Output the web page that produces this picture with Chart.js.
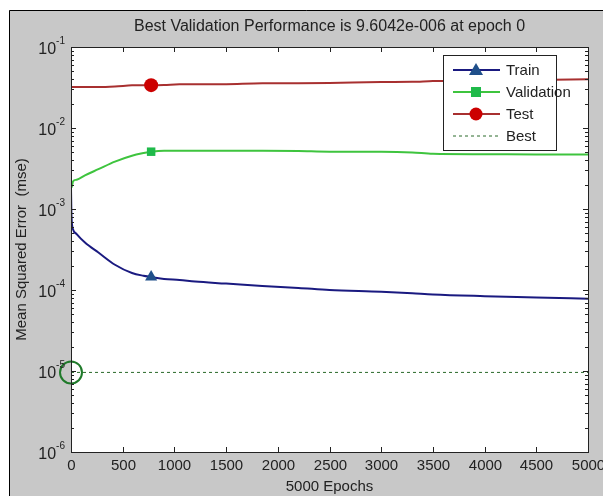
<!DOCTYPE html>
<html>
<head>
<meta charset="utf-8">
<script src="https://cdn.jsdelivr.net/npm/chart.js@4.4.1/dist/chart.umd.min.js"></script>
<style>
  body { margin: 0; background: #fff; }
  #wrap { width: 603px; height: 496px; }
</style>
</head>
<body>
<div id="wrap"><canvas id="perfChart" width="603" height="496"></canvas></div>
<script>
// values (epoch -> mse)
const epochs     = [0, 5, 20, 55, 135, 265, 425, 590, 700, 775, 900, 1050, 1200, 1500, 1850, 2200, 2500, 3000, 3300, 3500, 4000, 4500, 5000];
const trainMse   = [1.8e-3, 8e-4, 5.6e-4, 4.9e-4, 3.85e-4, 2.9e-4, 2.05e-4, 1.62e-4, 1.5e-4, 1.45e-4, 1.37e-4, 1.33e-4, 1.27e-4, 1.2e-4, 1.12e-4, 1.06e-4, 1.0e-4, 9.5e-5, 9.1e-5, 8.8e-5, 8.4e-5, 8.1e-5, 7.8e-5];
const validMse   = [2.0e-3, 1.85e-3, 2.2e-3, 2.3e-3, 2.6e-3, 3.1e-3, 3.85e-3, 4.55e-3, 4.9e-3, 5.1e-3, 5.25e-3, 5.25e-3, 5.25e-3, 5.25e-3, 5.25e-3, 5.2e-3, 5.1e-3, 5.1e-3, 5.0e-3, 4.8e-3, 4.75e-3, 4.7e-3, 4.7e-3];
const testMse    = [3.2e-2, 3.2e-2, 3.2e-2, 3.2e-2, 3.2e-2, 3.2e-2, 3.25e-2, 3.36e-2, 3.38e-2, 3.38e-2, 3.4e-2, 3.46e-2, 3.46e-2, 3.48e-2, 3.56e-2, 3.57e-2, 3.6e-2, 3.7e-2, 3.72e-2, 3.8e-2, 3.85e-2, 3.9e-2, 4.0e-2];
const bestEpochs = [0, 5000];
const bestMse    = [9.6042e-6, 9.6042e-6];
const markEpoch  = 775;
const xTicks     = [0, 500, 1000, 1500, 2000, 2500, 3000, 3500, 4000, 4500, 5000];
const yExponents = [-1, -2, -3, -4, -5, -6];

const FONT = '"Liberation Sans", Arial, sans-serif';

const toPoints = (xs, ys) => xs.map((x, i) => ({ x: x, y: ys[i] }));
const markOnly = (r) => (ctx) => (ctx.raw && ctx.raw.x === markEpoch ? r : 0);

const legendItems = [
  { label: "Train", color: "#1a1a80", marker: "triangle", fill: "#1f4f8a" },
  { label: "Validation", color: "#3ec43e", marker: "rect", fill: "#1fba4a" },
  { label: "Test", color: "#a83030", marker: "circle", fill: "#cc0000" },
  { label: "Best", color: "#2a6a2a", marker: null, dash: [3, 3] }
];

// frame, ticks, labels, title and legend drawn MATLAB-style
const matlabLook = {
  id: "matlabLook",
  beforeDraw(chart) {
    const ctx = chart.ctx, a = chart.chartArea;
    ctx.save();
    ctx.fillStyle = "#fff";
    ctx.fillRect(0, 0, chart.width, chart.height);
    ctx.fillStyle = "#c8c8c8";
    ctx.fillRect(9, 10, chart.width - 9, chart.height - 10);
    ctx.strokeStyle = "#000";
    ctx.lineWidth = 1;
    ctx.beginPath();
    ctx.moveTo(9.5, chart.height);
    ctx.lineTo(9.5, 10.5);
    ctx.lineTo(chart.width, 10.5);
    ctx.stroke();
    ctx.fillStyle = "#fff";
    ctx.fillRect(a.left, a.top, a.right - a.left, a.bottom - a.top);
    ctx.restore();
  },
  afterDatasetsDraw(chart) {
    const ctx = chart.ctx, a = chart.chartArea;
    const xs = chart.scales.x, ys = chart.scales.y;
    ctx.save();
    ctx.strokeStyle = "#222";
    ctx.lineWidth = 1;
    ctx.strokeRect(Math.round(a.left) + 0.5, Math.round(a.top) + 0.5, Math.round(a.right - a.left), Math.round(a.bottom - a.top));

    // x ticks
    ctx.fillStyle = "#222";
    ctx.font = "15px " + FONT;
    ctx.textAlign = "center";
    ctx.textBaseline = "middle";
    ctx.beginPath();
    xTicks.forEach(t => {
      const px = Math.round(xs.getPixelForValue(t)) + 0.5;
      ctx.moveTo(px, a.bottom); ctx.lineTo(px, a.bottom - 5);
      ctx.moveTo(px, a.top); ctx.lineTo(px, a.top + 5);
      ctx.fillText(String(t), px, a.bottom + 14);
    });
    // y ticks (major + minor)
    yExponents.forEach(e => {
      const py = Math.round(ys.getPixelForValue(Math.pow(10, e))) + 0.5;
      ctx.moveTo(a.left, py); ctx.lineTo(a.left + 5, py);
      ctx.moveTo(a.right, py); ctx.lineTo(a.right - 5, py);
      if (e < -1) {
        for (let m = 2; m <= 9; m++) {
          const my = Math.round(ys.getPixelForValue(m * Math.pow(10, e))) + 0.5;
          ctx.moveTo(a.left, my); ctx.lineTo(a.left + 3, my);
          ctx.moveTo(a.right, my); ctx.lineTo(a.right - 3, my);
        }
      }
    });
    ctx.stroke();

    yExponents.forEach(e => {
      const py = ys.getPixelForValue(Math.pow(10, e));
      ctx.font = "10px " + FONT;
      ctx.textAlign = "left";
      const sup = String(e);
      const supW = ctx.measureText(sup).width;
      const supX = a.left - 6 - supW;
      ctx.fillText(sup, supX, py - 6);
      ctx.font = "16px " + FONT;
      ctx.textAlign = "right";
      ctx.fillText("10", supX, py + 3);
    });

    // axis titles and title
    ctx.textAlign = "center";
    ctx.font = "15px " + FONT;
    ctx.fillText("5000 Epochs", (a.left + a.right) / 2, chart.height - 9);
    ctx.font = "16px " + FONT;
    ctx.fillText("Best Validation Performance is 9.6042e-006 at epoch 0", (a.left + a.right) / 2, 27);
    ctx.font = "15px " + FONT;
    ctx.save();
    ctx.translate(22, (a.top + a.bottom) / 2);
    ctx.rotate(-Math.PI / 2);
    ctx.fillText("Mean Squared Error  (mse)", 0, 0);
    ctx.restore();

    // legend box
    const lx = 443, ly = 55, lw = 113, lh = 95;
    ctx.fillStyle = "#fff";
    ctx.fillRect(lx, ly, lw, lh);
    ctx.strokeStyle = "#222";
    ctx.strokeRect(lx + 0.5, ly + 0.5, lw, lh);
    legendItems.forEach((it, i) => {
      const y = ly + 15 + i * 22;
      ctx.strokeStyle = it.color;
      ctx.lineWidth = it.dash ? 1 : 2;
      ctx.setLineDash(it.dash || []);
      ctx.beginPath();
      ctx.moveTo(lx + 10, y); ctx.lineTo(lx + 57, y);
      ctx.stroke();
      ctx.setLineDash([]);
      ctx.fillStyle = it.fill || it.color;
      if (it.marker === "triangle") {
        ctx.beginPath();
        ctx.moveTo(lx + 33, y - 7); ctx.lineTo(lx + 40, y + 5); ctx.lineTo(lx + 26, y + 5);
        ctx.closePath(); ctx.fill();
      } else if (it.marker === "rect") {
        ctx.fillRect(lx + 28, y - 5, 10, 10);
      } else if (it.marker === "circle") {
        ctx.beginPath(); ctx.arc(lx + 33, y, 6.5, 0, Math.PI * 2); ctx.fill();
      }
      ctx.fillStyle = "#222";
      ctx.font = "15px " + FONT;
      ctx.textAlign = "left";
      ctx.fillText(it.label, lx + 63, y + 1);
    });
    ctx.restore();
  }
};

new Chart(document.getElementById("perfChart"), {
  type: "scatter",
  data: {
    datasets: [
      {
        label: "Best",
        data: toPoints(bestEpochs, bestMse),
        showLine: true,
        borderColor: "#2a6a2a",
        borderWidth: 1,
        borderDash: [3, 3],
        pointRadius: 0
      },
      {
        label: "Best point",
        data: [{ x: bestEpochs[0], y: bestMse[0] }],
        pointStyle: "circle",
        pointRadius: 11,
        borderColor: "#1f7a2a",
        backgroundColor: "rgba(0,0,0,0)",
        borderWidth: 2,
        clip: false
      },
      {
        label: "Test",
        data: toPoints(epochs, testMse),
        showLine: true,
        borderColor: "#a83030",
        borderWidth: 2,
        cubicInterpolationMode: "monotone",
        pointStyle: "circle",
        pointRadius: markOnly(7),
        backgroundColor: "#cc0000",
        pointBorderWidth: 0
      },
      {
        label: "Validation",
        data: toPoints(epochs, validMse),
        showLine: true,
        borderColor: "#3ec43e",
        borderWidth: 2,
        cubicInterpolationMode: "monotone",
        pointStyle: "rect",
        pointRadius: markOnly(6),
        backgroundColor: "#1fba4a",
        pointBorderWidth: 0
      },
      {
        label: "Train",
        data: toPoints(epochs, trainMse),
        showLine: true,
        borderColor: "#1a1a80",
        borderWidth: 2,
        cubicInterpolationMode: "monotone",
        pointStyle: "triangle",
        pointRadius: markOnly(7),
        backgroundColor: "#1f4f8a",
        pointBorderWidth: 0
      }
    ]
  },
  options: {
    responsive: false,
    animation: false,
    layout: { padding: { left: 71, top: 47, right: 15, bottom: 44 } },
    plugins: { legend: { display: false }, tooltip: { enabled: false } },
    scales: {
      x: { type: "linear", min: 0, max: 5000, display: false },
      y: { type: "logarithmic", min: 1e-6, max: 1e-1, display: false }
    }
  },
  plugins: [matlabLook]
});
</script>
</body>
</html>
